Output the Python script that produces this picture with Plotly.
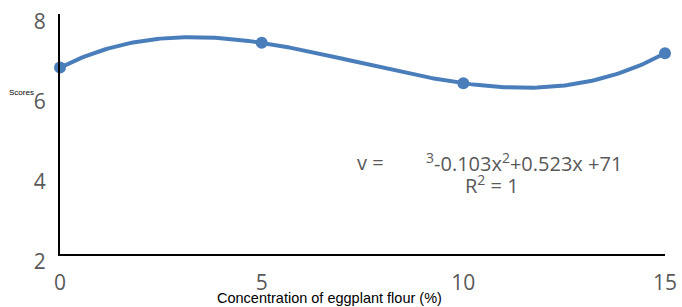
import numpy as np
import plotly.graph_objects as go

concentration = [0, 5, 10, 15]
scores = [6.66, 7.28, 6.27, 7.02]
x_ticks = [0, 5, 10, 15]
y_ticks = [2, 4, 6, 8]

# cubic trendline (R^2 = 1) fitted to the data
coef = np.polyfit(concentration, scores, 3)
xs = np.linspace(min(concentration), max(concentration), 200)
ys = np.polyval(coef, xs)

blue = "#4A7EBB"
fig = go.Figure()
fig.add_trace(go.Scatter(x=xs, y=ys, mode="lines", cliponaxis=False,
                         line=dict(color=blue, width=4), hoverinfo="skip"))
fig.add_trace(go.Scatter(x=concentration, y=scores, mode="markers", cliponaxis=False,
                         marker=dict(color=blue, size=12)))

tickfont = dict(family="Open Sans, Lato, sans-serif", size=21, color="#595959")
fig.update_layout(
    width=682, height=307,
    margin=dict(l=60, r=17, t=14, b=53),
    paper_bgcolor="white", plot_bgcolor="white",
    showlegend=False,
    xaxis=dict(range=[0, 15], tickvals=x_ticks, showgrid=False, zeroline=False,
               showline=True, linecolor="black", linewidth=2, ticks="",
               automargin=False,
               tickfont=tickfont, ticklabelstandoff=9),
    yaxis=dict(range=[2, 8], tickvals=y_ticks, showgrid=False, zeroline=False,
               showline=True, linecolor="black", linewidth=2, ticks="",
               automargin=False,
               tickfont=tickfont, ticklabelstandoff=8, ticklabelshift=8),
)
fig.add_annotation(xref="paper", yref="paper", x=0.445, y=-0.183, xanchor="center",
                   yanchor="middle", text="Concentration of eggplant flour (%)",
                   showarrow=False,
                   font=dict(family="Liberation Sans, Arial", size=14.5, color="black"))
fig.add_annotation(xref="paper", yref="paper", x=-0.04, y=0.70, xanchor="right",
                   text="Scores", showarrow=False,
                   font=dict(family="Liberation Sans, Arial", size=8, color="black"))
eqfont = dict(family="Open Sans, sans-serif", size=20, color="#595959")
fig.add_annotation(x=7.7, y=4.3, xanchor="center", yanchor="middle",
                   text="v =", showarrow=False, font=eqfont)
fig.add_annotation(x=11.5, y=4.3, xanchor="center", yanchor="middle",
                   text="<sup>3</sup>-0.103x<sup>2</sup>+0.523x +71", showarrow=False,
                   font=eqfont)
fig.add_annotation(x=10.7, y=3.73, xanchor="center", yanchor="middle",
                   text="R<sup>2</sup> = 1", showarrow=False, font=eqfont)
fig.write_html("out.html", config={"displayModeBar": False},
               post_script="document.body.style.margin='0';document.body.style.overflow='hidden';")
